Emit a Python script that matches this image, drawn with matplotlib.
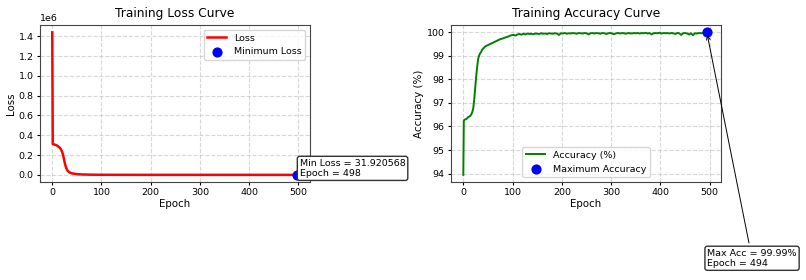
import numpy as np
import matplotlib
matplotlib.use("Agg")
import matplotlib.pyplot as plt

# loss at selected epochs
loss_epochs = [0, 1, 2, 4, 6, 8, 10, 12, 14, 16, 18, 20, 22, 24, 26, 28, 30, 32, 34, 36,
               38, 40, 45, 50, 55, 60, 70, 80, 90, 100, 150, 200, 300, 400, 498, 499]
loss_values = [1.44e6, 3.12e5, 3.10e5, 3.07e5, 3.04e5, 3.00e5, 2.95e5, 2.88e5, 2.80e5, 2.70e5,
               2.55e5, 2.35e5, 2.00e5, 1.55e5, 1.10e5, 7.5e4, 5.2e4, 3.8e4, 2.9e4, 2.3e4,
               1.9e4, 1.6e4, 1.1e4, 8.0e3, 6.0e3, 4.6e3, 3.0e3, 2.0e3, 1.4e3, 1.0e3,
               400, 200, 90, 50, 31.920568, 33.0]
min_loss_epoch = 498
min_loss = 31.920568

# accuracy (%), early part
acc_head_epochs = [0, 1, 2, 4, 6, 8, 10, 12, 14, 16, 18, 20, 22, 24, 26, 28, 30, 32, 34, 36,
                   38, 40, 45, 50, 55, 60, 65, 70, 75, 80, 85, 90, 95, 98]
acc_head = [93.95, 96.25, 96.28, 96.30, 96.32, 96.35, 96.40, 96.42, 96.45, 96.50,
            96.60, 96.75, 97.10, 97.60, 98.10, 98.50, 98.85, 99.00, 99.10, 99.15,
            99.25, 99.30, 99.40, 99.45, 99.50, 99.55, 99.60, 99.65, 99.70, 99.73,
            99.77, 99.80, 99.85, 99.87]
# accuracy (%), plateau every 4 epochs from 102 to 498
acc_tail_epochs = list(range(102, 500, 4))
acc_tail = [99.88, 99.85, 99.90, 99.92, 99.89, 99.93, 99.90, 99.94, 99.92, 99.93,
            99.91, 99.94, 99.93, 99.92, 99.95, 99.93, 99.94, 99.92, 99.95, 99.94,
            99.93, 99.95, 99.94, 99.88, 99.95, 99.94, 99.96, 99.93, 99.95, 99.94,
            99.96, 99.95, 99.93, 99.96, 99.95, 99.94, 99.96, 99.95, 99.90, 99.95,
            99.96, 99.94, 99.96, 99.95, 99.93, 99.96, 99.95, 99.92, 99.95, 99.96,
            99.94, 99.91, 99.95, 99.96, 99.94, 99.96, 99.95, 99.93, 99.96, 99.95,
            99.94, 99.96, 99.95, 99.96, 99.94, 99.96, 99.95, 99.97, 99.94, 99.96,
            99.90, 99.95, 99.96, 99.95, 99.97, 99.94, 99.96, 99.95, 99.96, 99.94,
            99.96, 99.95, 99.92, 99.96, 99.95, 99.88, 99.95, 99.96, 99.94, 99.90,
            99.95, 99.87, 99.95, 99.94, 99.96, 99.95, 99.96, 99.95, 99.99, 99.96]
max_acc_epoch = 494
max_acc = 99.99

acc_epochs = acc_head_epochs + acc_tail_epochs
acc_values = acc_head + acc_tail

TICK = 6.8
LABEL = 7.4
TITLE = 8.8

fig = plt.figure(figsize=(8.06, 2.8), dpi=100)
ax1 = fig.add_axes([0.0496, 0.35, 0.335, 0.56])
ax2 = fig.add_axes([0.5596, 0.35, 0.335, 0.56])

box = dict(boxstyle="round,pad=0.25", fc="white", ec="#333333", lw=1.0)

# loss
ax1.plot(loss_epochs, loss_values, color="red", lw=1.8, label="Loss")
ax1.scatter([min_loss_epoch], [min_loss], color="blue", s=40, zorder=3, label="Minimum Loss")
ax1.annotate(f"Min Loss = {min_loss:.6f}\nEpoch = {min_loss_epoch}",
             xy=(min_loss_epoch, min_loss), xytext=(min_loss_epoch + 5, min_loss - 12000),
             fontsize=TICK, bbox=box,
             arrowprops=dict(arrowstyle="->", color="black", lw=0.7))
ax1.set_title("Training Loss Curve", fontsize=TITLE)
ax1.set_xlabel("Epoch", fontsize=LABEL, labelpad=1)
ax1.set_ylabel("Loss", fontsize=LABEL, labelpad=2)
ax1.legend(loc="upper right", fontsize=TICK)

# accuracy
ax2.plot(acc_epochs, acc_values, color="green", lw=1.4, label="Accuracy (%)")
ax2.scatter([max_acc_epoch], [max_acc], color="blue", s=40, zorder=3, label="Maximum Accuracy")
ax2.annotate(f"Max Acc = {max_acc:.2f}%\nEpoch = {max_acc_epoch}",
             xy=(max_acc_epoch, max_acc), xytext=(max_acc_epoch + 1, max_acc - 9.9),
             fontsize=TICK, bbox=box, annotation_clip=False,
             arrowprops=dict(arrowstyle="->", color="black", lw=0.7))
ax2.set_title("Training Accuracy Curve", fontsize=TITLE)
ax2.set_xlabel("Epoch", fontsize=LABEL, labelpad=1)
ax2.set_ylabel("Accuracy (%)", fontsize=LABEL, labelpad=2)
ax2.legend(loc="lower center", fontsize=TICK)

for ax in (ax1, ax2):
    ax.grid(True, linestyle="--", alpha=0.5)
    ax.tick_params(labelsize=TICK, length=2.5, pad=2)
    ax.set_xticks([0, 100, 200, 300, 400, 500])
    for s in ax.spines.values():
        s.set_color("#444444")
ax1.yaxis.get_offset_text().set_fontsize(TICK)

fig.savefig("out.png", dpi=100)
